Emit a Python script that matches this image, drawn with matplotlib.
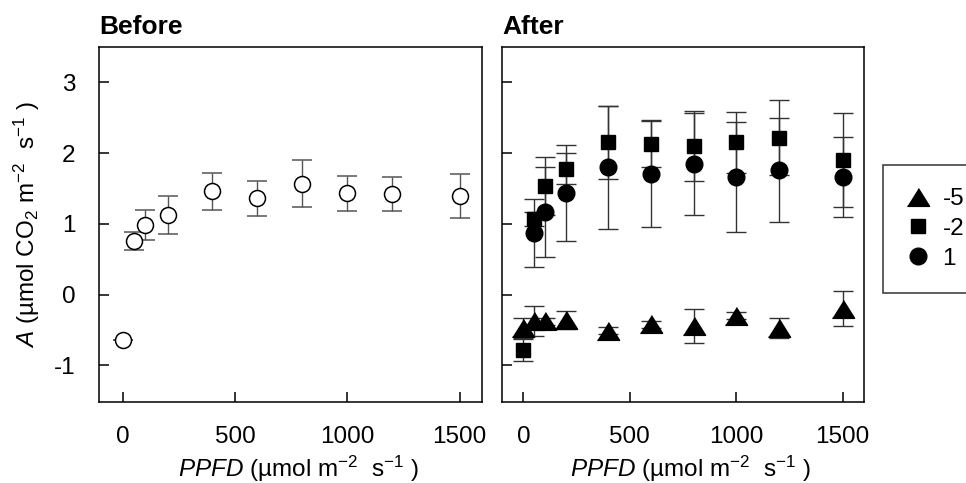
import numpy as np
import matplotlib
matplotlib.use("Agg")
import matplotlib.pyplot as plt
from matplotlib.lines import Line2D

plt.rcParams['font.family'] = ['Liberation Sans', 'DejaVu Sans']
plt.rcParams['mathtext.fontset'] = 'custom'
plt.rcParams['mathtext.rm'] = 'Liberation Sans'
plt.rcParams['mathtext.it'] = 'Liberation Sans:italic'
plt.rcParams['axes.unicode_minus'] = False

# light levels (PPFD)
ppfd = [0, 50, 100, 200, 400, 600, 800, 1000, 1200, 1500]

# before
before_mean = [-0.65, 0.76, 0.98, 1.13, 1.46, 1.36, 1.565, 1.43, 1.42, 1.39]
before_err = [0.0, 0.13, 0.21, 0.27, 0.26, 0.245, 0.33, 0.25, 0.24, 0.31]

# after, by temperature
after_labels = ['-5', '-2', '1']
tri_mean = [-0.48, -0.37, -0.38, -0.36, -0.51, -0.42, -0.44, -0.30, -0.47, -0.20]
tri_err = [0.15, 0.21, 0.05, 0.13, 0.05, 0.05, 0.24, 0.05, 0.14, 0.25]
sq_mean = [-0.78, 1.07, 1.53, 1.78, 2.15, 2.13, 2.10, 2.15, 2.22, 1.90]
sq_err = [0.16, 0.10, 0.41, 0.22, 0.52, 0.32, 0.50, 0.43, 0.53, 0.66]
ci_x = [50, 100, 200, 400, 600, 800, 1000, 1200, 1500]
ci_mean = [0.87, 1.17, 1.43, 1.80, 1.71, 1.85, 1.66, 1.76, 1.66]
ci_err = [0.48, 0.64, 0.68, 0.87, 0.76, 0.72, 0.78, 0.74, 0.57]

fs = 17.5
tri = [(-1.0, -0.8), (1.0, -0.8), (0.0, 0.8)]

fig = plt.figure(figsize=(9.66, 4.83), dpi=100)
ax1 = fig.add_axes([0.1025, 0.1677, 0.3965, 0.735])
ax2 = fig.add_axes([0.5197, 0.1677, 0.3747, 0.735])

ax1.errorbar(ppfd, before_mean, yerr=before_err, fmt='o', ms=11.5, mfc='white', mec='black',
             mew=1.1, ecolor='#555555', elinewidth=1.0, capsize=7, capthick=1.0)

ax2.errorbar(ci_x, ci_mean, yerr=ci_err, fmt='o', ms=12, color='black', ecolor='#333333',
             elinewidth=1.0, capsize=7, capthick=1.0)
ax2.errorbar(ppfd, sq_mean, yerr=sq_err, fmt='s', ms=10.5, color='black', ecolor='#333333',
             elinewidth=1.0, capsize=7, capthick=1.0)
ax2.errorbar(ppfd, tri_mean, yerr=tri_err, fmt='none', ecolor='#333333',
             elinewidth=1.0, capsize=7, capthick=1.0)
ax2.plot(ppfd, tri_mean, linestyle='none', marker=tri, ms=16, color='black')

for ax in (ax1, ax2):
    ax.set_xlim(-105, 1600)
    ax.set_ylim(-1.52, 3.5)
    ax.set_xticks([0, 500, 1000, 1500])
    ax.set_yticks([-1, 0, 1, 2, 3])
    ax.tick_params(direction='in', length=7, width=1.1, labelsize=fs, pad=17)
    for s in ax.spines.values():
        s.set_linewidth(1.1)
    ax.set_xlabel(r'$\it{PPFD}$ (µmol m$^{-2}$  s$^{-1}$ )', fontsize=fs)
    ax.xaxis.set_label_coords(0.52, -0.145)
    ax.xaxis.label.set_va('top')
ax2.set_xlim(-100, 1600)
ax2.tick_params(labelleft=False)

ax1.set_ylabel(r'$\it{A}$ (µmol CO$_2$ m$^{-2}$  s$^{-1}$ )', fontsize=fs)
ax1.yaxis.set_label_coords(-0.15, 0.5)

ax1.set_title('Before', loc='left', fontsize=19, fontweight='bold', pad=9)
ax2.set_title('After', loc='left', fontsize=19, fontweight='bold', pad=9)

handles = [
    Line2D([], [], linestyle='none', marker=tri, ms=16, color='black'),
    Line2D([], [], linestyle='none', marker='s', ms=10.5, color='black'),
    Line2D([], [], linestyle='none', marker='o', ms=12, color='black'),
]
leg = fig.legend(handles, after_labels, loc='upper left',
                 bbox_to_anchor=(883 / 966, 1 - 165 / 483), borderaxespad=0,
                 fontsize=fs, frameon=True, fancybox=False, edgecolor='black',
                 handlelength=1.0, handletextpad=0.5, labelspacing=0.32, borderpad=0.95)
leg.get_frame().set_linewidth(1.1)

fig.savefig('out.png', dpi=100)
